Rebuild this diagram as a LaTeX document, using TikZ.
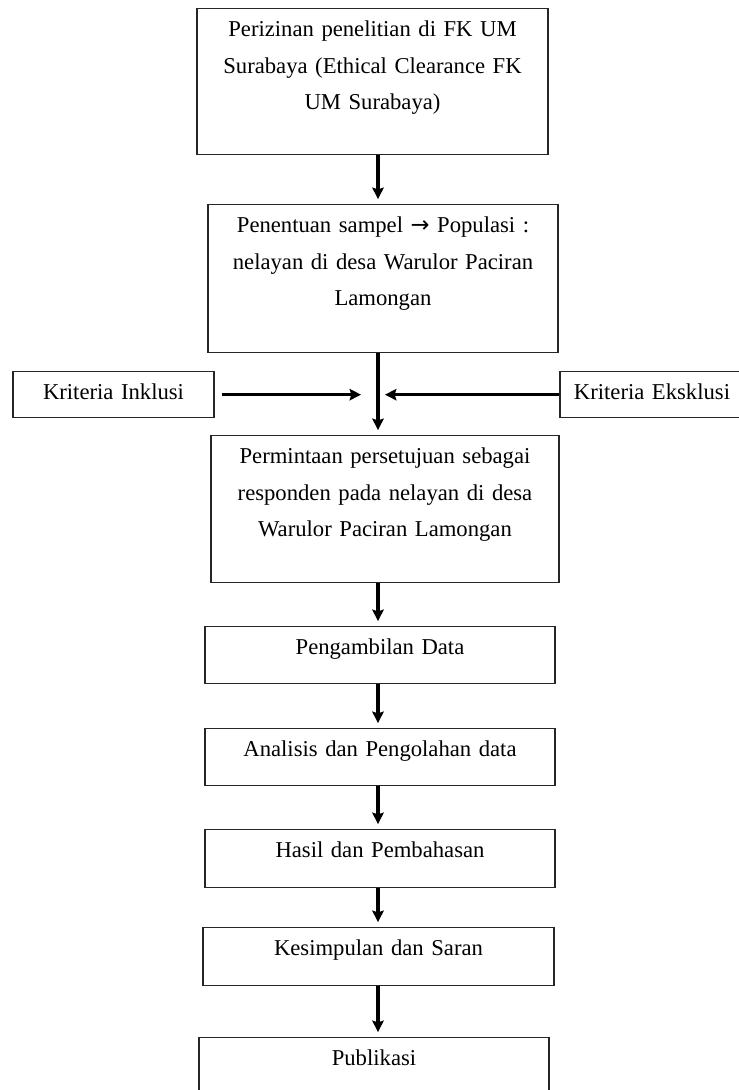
\documentclass[tikz,border=0pt]{standalone}
\usepackage{fontspec}
\setmainfont{Liberation Serif}
\newfontfamily\arrowfont{DejaVu Sans}
\usetikzlibrary{arrows.meta}

\tikzset{
  stepbox/.style={draw=black!85, line width=0.75pt, inner sep=0pt, align=center,
    anchor=north, text height=0.56cm, font=\fontsize{12.9}{20.8}\selectfont},
  flow/.style={line width=1.8pt, -{Stealth[length=6.5pt,width=6.5pt,inset=1pt]},
    shorten >=2.8pt}
}

\begin{document}
\begin{tikzpicture}[x=0.02cm, y=-0.02cm]
\useasboundingbox (0,0) rectangle (738,1090);

\node[stepbox, text width=7.02cm, text depth=2.36cm] (perizinan) at (372.5,8)
  {Perizinan penelitian di FK UM\\Surabaya (Ethical Clearance FK\\UM Surabaya)};
\node[stepbox, text width=7.00cm, text depth=2.40cm] (penentuan) at (383,204)
  {Penentuan sampel {\arrowfont →} Populasi :\\nelayan di desa Warulor Paciran\\Lamongan};
\node[stepbox, text width=4.02cm, text depth=0.36cm] (inklusi) at (113.5,371)
  {Kriteria Inklusi};
\node[stepbox, text width=3.68cm, text depth=0.36cm] (eksklusi) at (652,371)
  {Kriteria Eksklusi};
\node[stepbox, text width=6.96cm, text depth=2.38cm] (permintaan) at (385,435)
  {Permintaan persetujuan sebagai\\responden pada nelayan di desa\\Warulor Paciran Lamongan};
\node[stepbox, text width=7.00cm, text depth=0.58cm] (pengambilan) at (380,626)
  {Pengambilan Data};
\node[stepbox, text width=7.00cm, text depth=0.58cm] (analisis) at (380,728)
  {Analisis dan Pengolahan data};
\node[stepbox, text width=7.00cm, text depth=0.60cm] (hasil) at (380,829)
  {Hasil dan Pembahasan};
\node[stepbox, text width=7.02cm, text depth=0.60cm] (kesimpulan) at (378.5,927)
  {Kesimpulan dan Saran};
\node[stepbox, text width=7.00cm, text depth=0.58cm] (publikasi) at (374,1037)
  {Publikasi};

\coordinate (spine) at (378,0);
\coordinate (inL) at (361,0);
\coordinate (exR) at (385,0);

\draw[flow] (perizinan.south -| spine) -- (penentuan.north -| spine);
\draw[flow] (penentuan.south -| spine) -- (permintaan.north -| spine);
\draw[flow, shorten <=4pt, shorten >=0pt] (inklusi.east) -- (inklusi.east -| inL);
\draw[flow, shorten >=0pt] (eksklusi.west) -- (eksklusi.west -| exR);
\draw[flow] (permintaan.south -| spine) -- (pengambilan.north -| spine);
\draw[flow] (pengambilan.south -| spine) -- (analisis.north -| spine);
\draw[flow] (analisis.south -| spine) -- (hasil.north -| spine);
\draw[flow] (hasil.south -| spine) -- (kesimpulan.north -| spine);
\draw[flow] (kesimpulan.south -| spine) -- (publikasi.north -| spine);
\end{tikzpicture}
\end{document}
